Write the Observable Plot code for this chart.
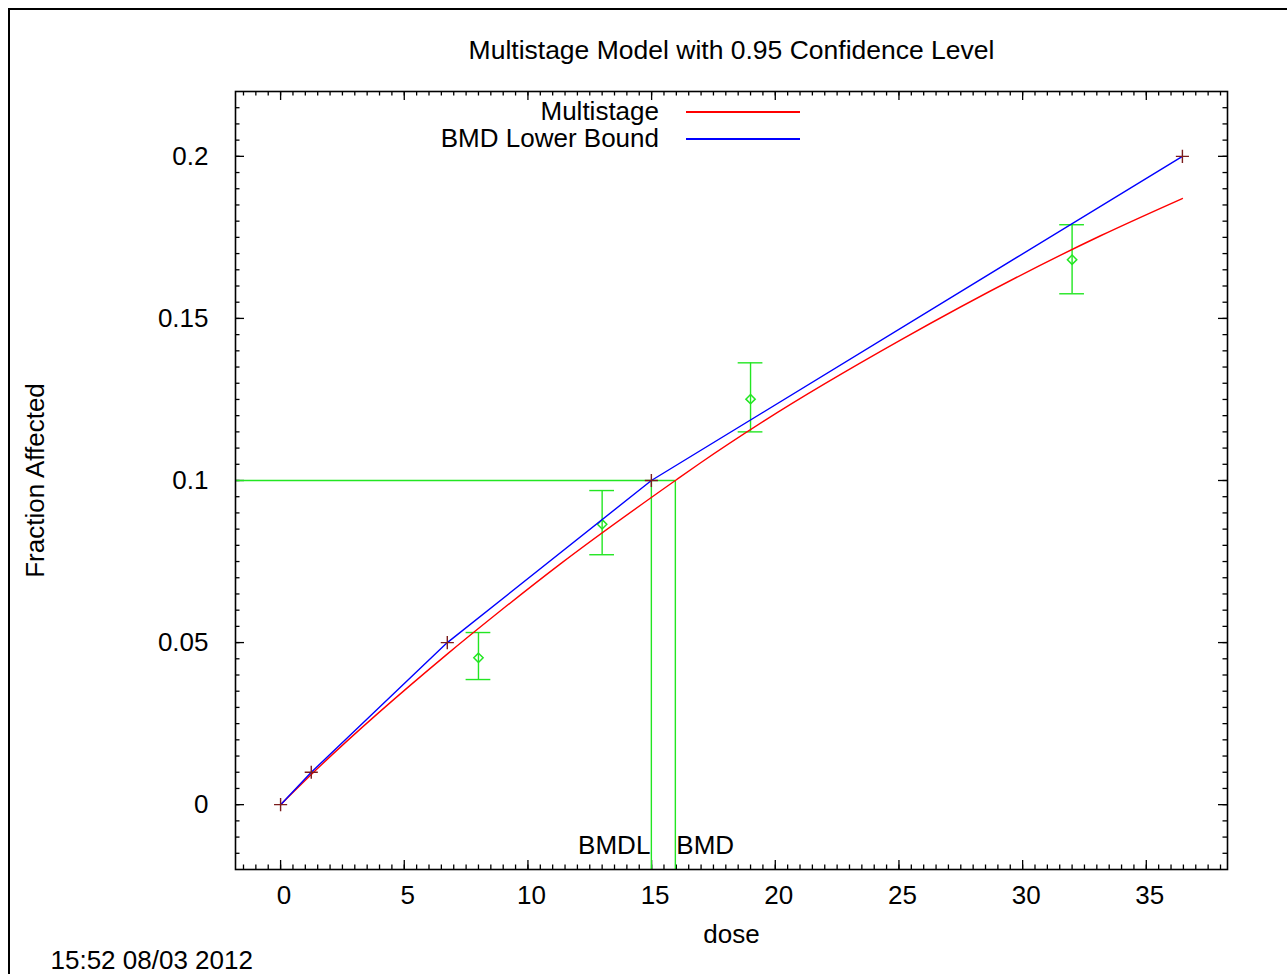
<!DOCTYPE html>
<html><head><meta charset="utf-8">
<script src="https://cdn.jsdelivr.net/npm/d3@7"></script>
<script src="https://cdn.jsdelivr.net/npm/@observablehq/plot@0.6"></script>
<style>
html,body{margin:0;padding:0;background:#fff;overflow:hidden;}
#wrap{position:relative;width:1287px;height:974px;overflow:hidden;font-family:"Liberation Sans",Arial,sans-serif;}
#border{position:absolute;left:8px;top:8px;width:1400px;height:1100px;border-left:2.5px solid #000;border-top:2.5px solid #000;}
#chart{position:absolute;left:0;top:0;}
.lgt{position:absolute;right:628px;font-size:26px;line-height:26px;white-space:nowrap;color:#000;}
.lgl{position:absolute;left:686px;width:114px;height:1.5px;}
</style></head><body>
<div id="wrap"><div id="border"></div><div id="chart"></div>
<div class="lgt" style="top:98px">Multistage</div>
<div class="lgl" style="top:111px;background:#ff0000"></div>
<div class="lgt" style="top:125px">BMD Lower Bound</div>
<div class="lgl" style="top:138px;background:#0000ff"></div>
</div>
<script>
// Multistage fitted curve
const modelDose = [0, 1.24, 6.7, 8.89, 11.3, 15.96, 16.97, 19.55, 25.06, 33.15, 36.46];
const modelFrac = [0, 0.0093, 0.0462, 0.0598, 0.0742, 0.1, 0.1054, 0.1184, 0.1433, 0.1755, 0.187];
// BMD lower bound curve (points marked with +)
const lowerDose = [0, 1.24, 6.74, 14.99, 36.46];
const lowerFrac = [0, 0.01, 0.05, 0.1, 0.2];
// Observed data with confidence bars
const obsDose = [8, 13, 19, 32];
const obsFrac = [0.0453, 0.0865, 0.1251, 0.1681];
const obsLo = [0.0386, 0.0771, 0.1150, 0.1576];
const obsHi = [0.0531, 0.0969, 0.1363, 0.1789];
// Benchmark values
const bmr = 0.1, bmdl = 14.99, bmd = 15.96;
// Axis settings
const xDomain = [-1.823, 38.283];
const yDomain = [-0.02, 0.22];
const xMajor = [0, 5, 10, 15, 20, 25, 30, 35];
const yMajor = [0, 0.05, 0.1, 0.15, 0.2];
const xMinor = d3.range(-1.5, 38.01, 0.5);
const yMinor = d3.range(-0.015, 0.2151, 0.005);
const titleText = "Multistage Model with 0.95 Confidence Level";
const xLabel = "dose", yLabel = "Fraction Affected", stamp = "15:52 08/03 2012";

const model = modelDose.map((d, i) => ({dose: d, frac: modelFrac[i]}));
const lower = lowerDose.map((d, i) => ({dose: d, frac: lowerFrac[i]}));
const obs = obsDose.map((d, i) => ({dose: d, frac: obsFrac[i], lo: obsLo[i], hi: obsHi[i]}));

const W = 1287, H = 974, mL = 235, mT = 91, mR = 60, mB = 105;
const fw = W - mL - mR, fh = H - mT - mB;
const green = "#22e622";
const font = "Liberation Sans, Arial, sans-serif";

const chart = Plot.plot({
  width: W, height: H,
  marginLeft: mL, marginTop: mT, marginRight: mR, marginBottom: mB,
  style: {fontFamily: font, fontSize: "26px", background: "transparent", overflow: "visible"},
  x: {domain: xDomain},
  y: {domain: yDomain},
  marks: [
    // inward ticks on all sides
    Plot.tickX(xMinor, {x: d => d, insetTop: fh - 4.5, stroke: "#000", strokeWidth: 1.3}),
    Plot.tickX(xMinor, {x: d => d, insetBottom: fh - 4.5, stroke: "#000", strokeWidth: 1.3}),
    Plot.tickX(xMajor, {x: d => d, insetTop: fh - 9, stroke: "#000", strokeWidth: 1.3}),
    Plot.tickX(xMajor, {x: d => d, insetBottom: fh - 9, stroke: "#000", strokeWidth: 1.3}),
    Plot.tickY(yMinor, {y: d => d, insetRight: fw - 4.5, stroke: "#000", strokeWidth: 1.3}),
    Plot.tickY(yMinor, {y: d => d, insetLeft: fw - 4.5, stroke: "#000", strokeWidth: 1.3}),
    Plot.tickY(yMajor, {y: d => d, insetRight: fw - 9, stroke: "#000", strokeWidth: 1.3}),
    Plot.tickY(yMajor, {y: d => d, insetLeft: fw - 9, stroke: "#000", strokeWidth: 1.3}),
    Plot.axisX({ticks: xMajor, tickSize: 0, tickPadding: 16, fontSize: 26, dx: 3.5, label: null}),
    Plot.axisY({ticks: yMajor, tickSize: 0, tickPadding: 27, fontSize: 26, tickFormat: d => String(d), label: null}),
    // BMD reference lines
    Plot.ruleY([bmr], {y: d => d, x1: () => xDomain[0], x2: () => bmd, stroke: green, strokeWidth: 1.4}),
    Plot.ruleX([bmdl, bmd], {x: d => d, y1: () => yDomain[0], y2: () => bmr, stroke: green, strokeWidth: 1.4}),
    Plot.text([bmdl], {x: d => d, frameAnchor: "bottom", dy: -16, dx: -1, textAnchor: "end", text: () => "BMDL", fontSize: 26}),
    Plot.text([bmd], {x: d => d, frameAnchor: "bottom", dy: -16, dx: 1, textAnchor: "start", text: () => "BMD", fontSize: 26}),
    // error bars
    Plot.ruleX(obs, {x: "dose", y1: "lo", y2: "hi", stroke: green, strokeWidth: 1.4}),
    Plot.ruleY(obs, {y: "lo", x1: d => d.dose - 0.5, x2: d => d.dose + 0.5, stroke: green, strokeWidth: 1.4}),
    Plot.ruleY(obs, {y: "hi", x1: d => d.dose - 0.5, x2: d => d.dose + 0.5, stroke: green, strokeWidth: 1.4}),
    Plot.dot(obs, {x: "dose", y: "frac", symbol: "diamond2", r: 4.2, stroke: green, strokeWidth: 1.5, fill: "none"}),
    // curves
    Plot.line(model, {x: "dose", y: "frac", stroke: "#ff0000", strokeWidth: 1.4, curve: "monotone-x"}),
    Plot.line(lower, {x: "dose", y: "frac", stroke: "#0000ff", strokeWidth: 1.4}),
    Plot.dot(lower, {x: "dose", y: "frac", symbol: "plus", r: 4.3, stroke: "#7b1c1c", strokeWidth: 1.4}),
    Plot.frame({stroke: "#000", strokeWidth: 1.6}),
    // titles
    Plot.text([titleText], {frameAnchor: "top", dy: -51, text: d => d, fontSize: 26.5}),
    Plot.text([xLabel], {frameAnchor: "bottom", dy: 73, text: d => d, fontSize: 26}),
    Plot.text([yLabel], {frameAnchor: "left", dx: -200, rotate: -90, textAnchor: "middle", lineAnchor: "middle", text: d => d, fontSize: 26}),
    Plot.text([stamp], {frameAnchor: "bottom-left", dx: -185, dy: 99, textAnchor: "start", text: d => d, fontSize: 26})
  ]
});
document.getElementById("chart").appendChild(chart);
</script>
</body></html>
